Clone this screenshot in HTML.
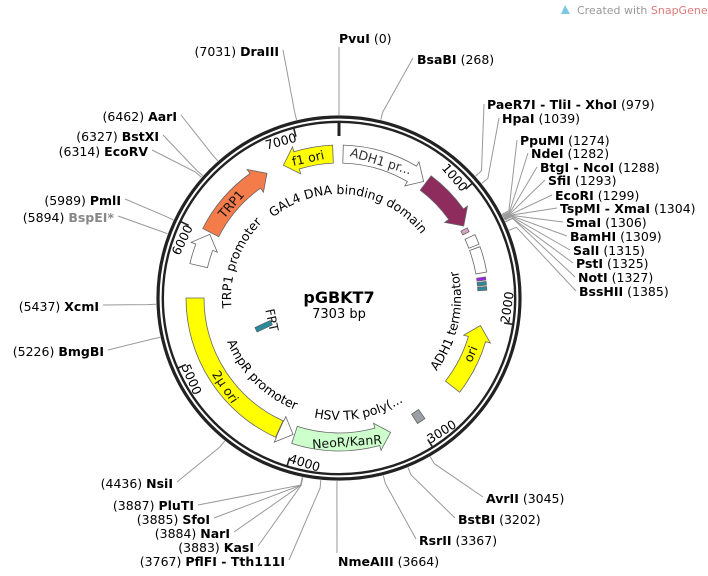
<!DOCTYPE html>
<html><head><meta charset="utf-8"><style>
html,body{margin:0;padding:0;background:#fff;width:708px;height:576px;overflow:hidden}
svg{display:block;font-family:"DejaVu Sans","Liberation Sans",sans-serif}
.n{font-size:12.5px;fill:#000}
.b{font-weight:bold}
.f{font-size:12.5px;fill:#111}
</style></head><body>
<svg id="s" width="708" height="576" viewBox="0 0 708 576" xmlns="http://www.w3.org/2000/svg">
<defs>
<path id="pGal" d="M245.9,251.6 A104,104 0 0 1 440.1,273.7"/>
<path id="pTrp" d="M270.2,381.2 A108,108 0 0 1 338.2,190"/>
<path id="pAmp" d="M230.2,247.3 A120,120 0 0 0 389.7,406.8"/>
<path id="pHsv" d="M233.3,359 A122,122 0 0 0 459.1,319.2"/>
<path id="pAdh" d="M356,418.8 A122,122 0 0 0 403.6,194.5"/>
</defs>
<g id="lines" stroke="#999" stroke-width="1" fill="none"></g>
<circle cx="339" cy="298" r="181" fill="none" stroke="#222" stroke-width="3.2"/>
<circle cx="339" cy="298" r="176.2" fill="none" stroke="#222" stroke-width="2.4"/>
<g id="ticks" stroke="#222"></g>
<g id="feat" stroke="#666" stroke-width="0.8"></g>

<g class="n" font-size="12.5">
<text x="339" y="136" text-anchor="end" transform="rotate(49.3 339 298)">1000</text>
<text x="339" y="470" text-anchor="start" transform="rotate(-81.4 339 298)">2000</text>
<text x="339" y="470" text-anchor="start" transform="rotate(-32.1 339 298)">3000</text>
<text x="339" y="470" text-anchor="start" transform="rotate(17.2 339 298)">4000</text>
<text x="339" y="470" text-anchor="start" transform="rotate(66.5 339 298)">5000</text>
<text x="339" y="136" text-anchor="end" transform="rotate(-64.2 339 298)">6000</text>
<text x="339" y="136" text-anchor="end" transform="rotate(-14.9 339 298)">7000</text>
</g>

<g class="n" font-size="13">
<text><textPath href="#pGal" startOffset="50%" text-anchor="middle">GAL4 DNA binding domain</textPath></text>
<text><textPath href="#pTrp" startOffset="50%" text-anchor="middle">TRP1 promoter</textPath></text>
<text><textPath href="#pAmp" startOffset="50%" text-anchor="middle">AmpR promoter</textPath></text>
<text><textPath href="#pHsv" startOffset="50%" text-anchor="middle">HSV TK poly(...</textPath></text>
<text><textPath href="#pAdh" startOffset="50%" text-anchor="middle">ADH1 terminator</textPath></text>
</g>

<g class="f" text-anchor="middle" dominant-baseline="central" font-size="13">
<text x="308" y="158" transform="rotate(-12.5 308 158)">f1 ori</text>
<text x="381" y="161" transform="rotate(17 381 161)" fill="#333">ADH1 pr...</text>
<text x="231" y="204" transform="rotate(-49 231 204)">TRP1</text>
<text x="225.5" y="386.7" transform="rotate(56 225.5 386.7)">2μ ori</text>
<text x="470.6" y="353.9" transform="rotate(-67 470.6 353.9)">ori</text>
<text x="347" y="441.7" transform="rotate(-4 347 441.7)">NeoR/KanR</text>
<text x="272" y="320" transform="rotate(78 272 320)">FRT</text>
</g>
<rect x="255" y="324" width="17" height="5" fill="#2a8a9a" stroke="#555" stroke-width="0.6" transform="rotate(-25 263 326)"/>

<text x="339" y="303" text-anchor="middle" font-size="16" font-weight="bold">pGBKT7</text>
<text x="339" y="318" text-anchor="middle" font-size="13">7303 bp</text>

<g class="n" xml:space="preserve">
<text x="339" y="43"><tspan class="b">PvuI</tspan>  (0)</text>
<text x="417" y="64"><tspan class="b">BsaBI</tspan>  (268)</text>
<text x="487" y="109"><tspan class="b">PaeR7I - TliI - XhoI</tspan>  (979)</text>
<text x="502" y="123"><tspan class="b">HpaI</tspan>  (1039)</text>
<text x="520" y="145"><tspan class="b">PpuMI</tspan>  (1274)</text>
<text x="531" y="158"><tspan class="b">NdeI</tspan>  (1282)</text>
<text x="540" y="172"><tspan class="b">BtgI - NcoI</tspan>  (1288)</text>
<text x="548" y="185"><tspan class="b">SfiI</tspan>  (1293)</text>
<text x="555" y="200"><tspan class="b">EcoRI</tspan>  (1299)</text>
<text x="560" y="213"><tspan class="b">TspMI - XmaI</tspan>  (1304)</text>
<text x="566" y="227"><tspan class="b">SmaI</tspan>  (1306)</text>
<text x="570" y="241"><tspan class="b">BamHI</tspan>  (1309)</text>
<text x="573" y="255"><tspan class="b">SalI</tspan>  (1315)</text>
<text x="576" y="268"><tspan class="b">PstI</tspan>  (1325)</text>
<text x="578" y="282"><tspan class="b">NotI</tspan>  (1327)</text>
<text x="579" y="296"><tspan class="b">BssHII</tspan>  (1385)</text>
<text x="486" y="503"><tspan class="b">AvrII</tspan>  (3045)</text>
<text x="458" y="524"><tspan class="b">BstBI</tspan>  (3202)</text>
<text x="419" y="545"><tspan class="b">RsrII</tspan>  (3367)</text>
<text x="338" y="566"><tspan class="b">NmeAIII</tspan>  (3664)</text>
</g>
<g class="n" text-anchor="end" xml:space="preserve">
<text x="173" y="488">(4436)  <tspan class="b">NsiI</tspan></text>
<text x="194" y="510">(3887)  <tspan class="b">PluTI</tspan></text>
<text x="210" y="524">(3885)  <tspan class="b">SfoI</tspan></text>
<text x="230" y="538">(3884)  <tspan class="b">NarI</tspan></text>
<text x="254" y="552">(3883)  <tspan class="b">KasI</tspan></text>
<text x="285" y="566">(3767)  <tspan class="b">PflFI - Tth111I</tspan></text>
<text x="279" y="56">(7031)  <tspan class="b">DraIII</tspan></text>
<text x="177" y="121">(6462)  <tspan class="b">AarI</tspan></text>
<text x="159" y="141">(6327)  <tspan class="b">BstXI</tspan></text>
<text x="148" y="156">(6314)  <tspan class="b">EcoRV</tspan></text>
<text x="121" y="205">(5989)  <tspan class="b">PmlI</tspan></text>
<text x="114" y="222">(5894)  <tspan class="b" fill="#888">BspEI*</tspan></text>
<text x="99" y="311">(5437)  <tspan class="b">XcmI</tspan></text>
<text x="104" y="356">(5226)  <tspan class="b">BmgBI</tspan></text>
</g>

<g font-size="11">
<path d="M565,5 l5,9 l-9,0 z" fill="#7cc8e0"/>
<text x="577" y="14" fill="#999">Created with <tspan fill="#e07a7a">SnapGene®</tspan></text>
</g>

<script>
(function(){
var CX=339,CY=298,NS="http://www.w3.org/2000/svg";
function pt(a,r){var t=a*Math.PI/180;return [CX+r*Math.sin(t),CY-r*Math.cos(t)];}
function f(p){return p[0].toFixed(1)+","+p[1].toFixed(1);}
function el(g,tag,attrs){var e=document.createElementNS(NS,tag);for(var k in attrs)e.setAttribute(k,attrs[k]);document.getElementById(g).appendChild(e);return e;}
function arc(a0,a1,r){var sw=a1>a0?1:0;var lg=Math.abs(a1-a0)>180?1:0;var p=pt(a1,r);return " A"+r+","+r+" 0 "+lg+" "+sw+" "+f(p);}
function feat(s,e,ri,ro,head,fill){
  var rm=(ri+ro)/2,h=14/rm*180/Math.PI,d,o=5;
  if(head==1){var b=e-h;
    d="M"+f(pt(s,ro))+arc(s,b,ro)+" L"+f(pt(b,ro+o))+" L"+f(pt(e,rm))+" L"+f(pt(b,ri-o))+" L"+f(pt(b,ri))+arc(b,s,ri)+" Z";}
  else if(head==-1){var b=s+h;
    d="M"+f(pt(e,ro))+arc(e,b,ro)+" L"+f(pt(b,ro+o))+" L"+f(pt(s,rm))+" L"+f(pt(b,ri-o))+" L"+f(pt(b,ri))+arc(b,e,ri)+" Z";}
  else{d="M"+f(pt(s,ro))+arc(s,e,ro)+" L"+f(pt(e,ri))+arc(e,s,ri)+" Z";}
  el("feat","path",{d:d,fill:fill});
}
var RI=135,RO=153;
feat(-22.7,-2.4,RI,RO,-1,"#ffff00");
feat(1.6,36,RI,RO,1,"#ffffff");
feat(37,60,RI,RO,1,"#8e2c5e");
feat(61.3,63,139,146,0,"#d9a3c6");
feat(65,69,139,150,0,"#fff");
feat(70,80,139,150,0,"#fff");
feat(81.8,83,139,148,0,"#a020f0");
feat(83.6,85,139,148,0,"#2a8a9a");
feat(85.6,87,139,148,0,"#2a8a9a");
feat(101,128,RI,RO,-1,"#ffff00");
feat(144.5,148,137,148,0,"#9aa0a6");
feat(159,198,RI,RO,-1,"#ccffcc");
feat(198.6,204.3,RI,RO,-1,"#ffffff");
feat(204.5,270,RI,RO,0,"#ffff00");
feat(283,296.2,RI,RO,1,"#ffffff");
feat(297,330,RI,RO,1,"#f47c4a");
el("ticks","line",{x1:CX,y1:CY-162,x2:CX,y2:CY-176,"stroke-width":3});
[1000,2000,3000,4000,5000,6000,7000].forEach(function(p){var a=p/7303*360;var A=pt(a,167),B=pt(a,177);
 el("ticks","line",{x1:A[0],y1:A[1],x2:B[0],y2:B[1],"stroke-width":1.6});});
var L=[[0,339,47],[268,413,58],[979,484,104],[1039,499,118],[1274,517,140],[1282,528,153],[1288,537,167],[1293,545,180],
[1299,552,195],[1304,557,208],[1306,563,222],[1309,567,236],[1315,570,250],[1325,573,263],[1327,575,277],[1385,576,291],
[3045,483,497],[3202,455,518],[3367,416,539],[3664,337,553],
[4436,177,482],[3887,198,505],[3885,214,518],[3884,234,532],[3883,258,546],[3767,289,560],
[7031,283,50],[6462,181,115],[6327,163,135],[6314,152,150],[5989,125,199],[5894,118,216],[5437,103,305],[5226,108,350]];
L.forEach(function(l){var a=l[0]/7303*360;var A=pt(a,183),B=pt(a,191);
 var pts=f(A)+" "+f(B)+" "+l[1]+","+l[2];
 if(l[0]==0) pts=f(A)+" "+l[1]+","+l[2];
 el("lines","polyline",{points:pts});});
})();
</script>
</svg>
</body></html>
